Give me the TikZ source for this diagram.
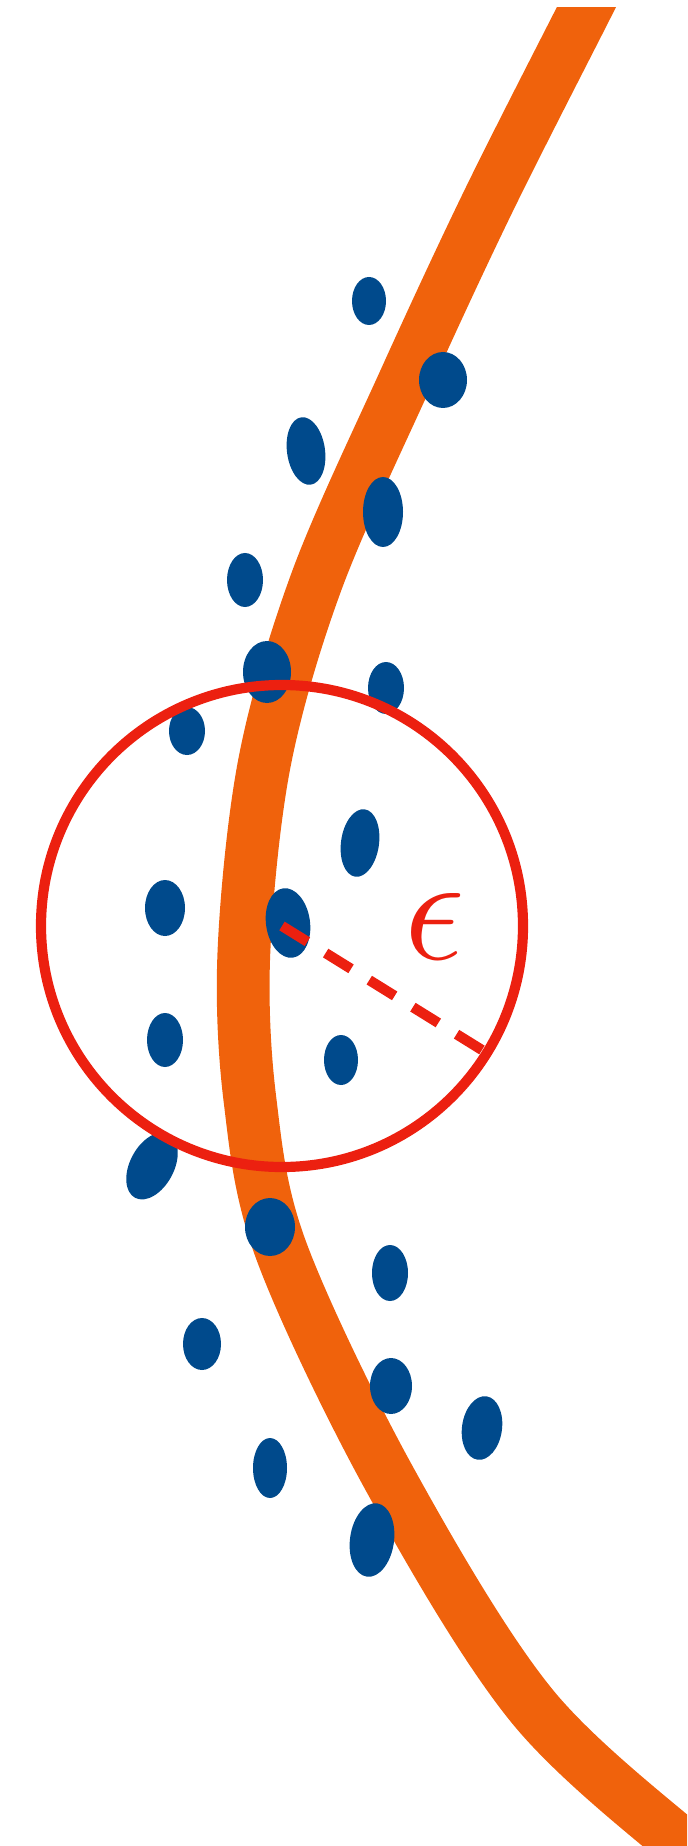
\RequirePackage{fix-cm}
\documentclass[tikz,border=0pt]{standalone}
\usepackage{amsmath, amssymb}
\usepackage{xcolor}
\usepackage{tikz}
\usetikzlibrary{calc}

\definecolor{curveorange}{RGB}{240,98,12}
\definecolor{dotblue}{RGB}{0,74,140}
\definecolor{ballred}{RGB}{236,32,16}

\tikzset{
    blob/.style={fill=dotblue},
    ball/.style={draw=ballred, line width=2.9pt},
    radius line/.style={draw=ballred, line width=2.9pt, dash pattern=on 8.5pt off 6.1pt}
}

\begin{document}
\begin{tikzpicture}[x=0.01cm, y=-0.01cm]
        \useasboundingbox (0,0) rectangle (687,1846);

        % Orange curve
        \begin{scope}
            \clip (0,8) rectangle (687,1846);
            \draw[curveorange, line width=15pt] plot[smooth, tension=0.55] coordinates {
                (600,-20) (586,8) (489,200) (405,380) (317,580) (265,760)
                (244,950) (250,1100) (281,1250) (389,1478) (532,1706)
                (700,1860) (760,1910)};
        \end{scope}

        % Sample points
        \foreach \x/\y/\a/\b/\r in {
            369/301/17/24/0, 443/380/24/28/0, 306/451/19/34/8, 383/512/20/35/0,
            245/580/18/27/0, 267/672/24/31/0, 386/688/18/26/0, 187/731/18/24/0,
            360/843/19/34/-8, 165/908/20/28/0, 288/923/22/35/8, 165/1040/18/27/0,
            341/1060/17/25/0, 152/1166/22/36/-28, 270/1227/25/29/0, 390/1273/18/28/0,
            202/1344/19/26/0, 391/1386/21/28/0, 482/1428/20/32/-8, 270/1468/17/30/0,
            372/1540/22/37/-8}
            \fill[blob, rotate around={\r:(\x,\y)}] (\x,\y) ellipse [x radius=\a, y radius=\b];

        % Epsilon ball
        \coordinate (centre) at (282,926);
        \draw[ball] (centre) circle [radius=241];
        \coordinate (rim) at ($(centre)+(31.8:241)$);
        \draw[radius line] (centre) -- (rim);
        \node[text=ballred, font=\Huge, scale=1.75, transform shape] (eps) at (435,927) {$\epsilon$};
\end{tikzpicture}
\end{document}
